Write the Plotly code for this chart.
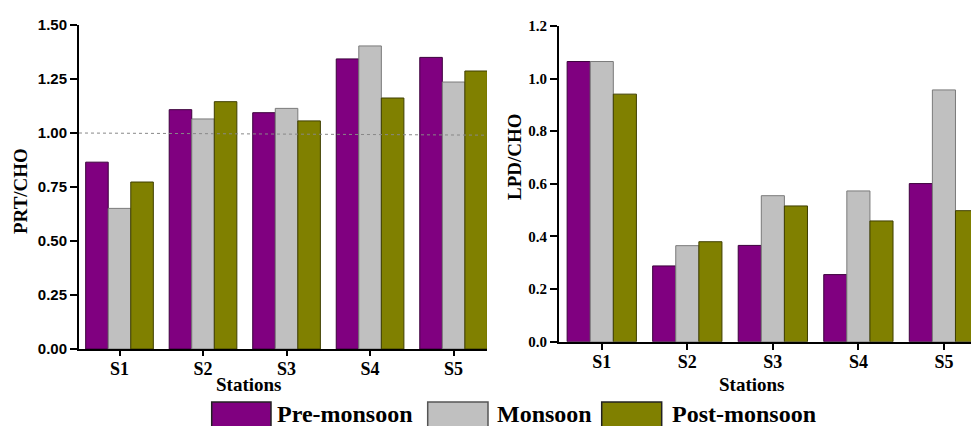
import plotly.graph_objects as go

stations = ["S1", "S2", "S3", "S4", "S5"]
seasons = ["Pre-monsoon", "Monsoon", "Post-monsoon"]

prt_pre = [0.865, 1.108, 1.094, 1.343, 1.350]
prt_mon = [0.651, 1.065, 1.114, 1.403, 1.236]
prt_post = [0.773, 1.145, 1.056, 1.162, 1.287]

lpd_pre = [1.065, 0.288, 0.366, 0.255, 0.601]
lpd_mon = [1.065, 0.365, 0.555, 0.573, 0.957]
lpd_post = [0.941, 0.380, 0.516, 0.459, 0.498]

fills = ["#800080", "#C0C0C0", "#808000"]
edges = ["#3c003c", "#7a7a7a", "#3f3f00"]

# page is 979x426; the html body adds an 8px margin, so the figure is 8px smaller
OFF = 8
W, H = 979 - OFF, 426 - OFF
def px(x):
    return (x - OFF) / W
def py(y):
    return 1 - (y - OFF) / H

fig = go.Figure()
for vals, name, f, e in zip([prt_pre, prt_mon, prt_post], seasons, fills, edges):
    fig.add_trace(go.Bar(x=stations, y=vals, name=name, marker=dict(color=f, line=dict(color=e, width=1)),
                         xaxis="x", yaxis="y", showlegend=False))
for vals, name, f, e in zip([lpd_pre, lpd_mon, lpd_post], seasons, fills, edges):
    fig.add_trace(go.Bar(x=stations, y=vals, name=name, marker=dict(color=f, line=dict(color=e, width=1)),
                         xaxis="x2", yaxis="y2", showlegend=False))

sans_b = dict(family="Liberation Sans, Arial", size=15, color="black", weight="bold")
serif_tick = dict(family="Liberation Serif, Times New Roman", size=15, color="black", weight="bold")
serif_x = dict(family="Liberation Serif, Times New Roman", size=18, color="black", weight="bold")

axis_common = dict(showline=True, linecolor="black", linewidth=2, ticks="outside",
                   tickwidth=2, tickcolor="black", showgrid=False, zeroline=False, automargin=False)

fig.update_layout(
    width=W, height=H, margin=dict(l=0, r=0, t=0, b=0, autoexpand=False),
    plot_bgcolor="white", paper_bgcolor="white",
    barmode="group", bargap=0.19, bargroupgap=0,
    xaxis=dict(domain=[px(79), px(487)], range=[-0.485, 4.4], type="category",
               tickfont=serif_x, anchor="y", ticklen=5, ticklabelstandoff=-3, **axis_common),
    yaxis=dict(domain=[py(349), py(25)], range=[0, 1.5], tickvals=[0, 0.25, 0.5, 0.75, 1.0, 1.25, 1.5],
               tickformat=".2f", tickfont=sans_b, anchor="x", ticklen=7, **axis_common),
    xaxis2=dict(domain=[px(559), 1], range=[-0.5, 4.41], type="category",
                tickfont=serif_x, anchor="y2", ticklen=6, ticklabelstandoff=-3, **axis_common),
    yaxis2=dict(domain=[py(341.7), py(26)], range=[0, 1.2], tickvals=[0, 0.2, 0.4, 0.6, 0.8, 1.0, 1.2],
                tickformat=".1f", tickfont=serif_tick, anchor="x2", ticklen=7, **axis_common),
    showlegend=False,
)

# reference line at 1.0 on the left panel
fig.add_shape(type="line", xref="x", yref="y", x0=-0.485, x1=4.4, y0=1.0, y1=0.99,
              line=dict(color="#888888", width=1, dash="dot"), layer="above")

title_font = dict(family="Liberation Serif, Times New Roman", size=19, color="black", weight="bold")
fig.add_annotation(text="Stations", xref="paper", yref="paper", x=px(248), y=py(384),
                   showarrow=False, font=title_font, xanchor="center", yanchor="middle")
fig.add_annotation(text="Stations", xref="paper", yref="paper", x=px(751), y=py(384),
                   showarrow=False, font=title_font, xanchor="center", yanchor="middle")
fig.add_annotation(text="PRT/CHO", xref="paper", yref="paper", x=px(20), y=py(191), textangle=-90,
                   showarrow=False, font=title_font, xanchor="center", yanchor="middle")
fig.add_annotation(text="LPD/CHO", xref="paper", yref="paper", x=px(514), y=py(156), textangle=-90,
                   showarrow=False, font=title_font, xanchor="center", yanchor="middle")

# custom legend
leg_font = dict(family="Liberation Serif, Times New Roman", size=24, color="black", weight="bold")
boxes = [(211.7, 271), (427.7, 488), (601.7, 661.7)]
text_x = [275, 495, 670]
for name, f, e, (x0, x1), tx in zip(seasons, fills, ["#222222", "#555555", "#222222"], boxes, text_x):
    fig.add_shape(type="rect", xref="paper", yref="paper", x0=px(x0), x1=px(x1), y0=py(428), y1=py(402),
                  fillcolor=f, line=dict(color=e, width=1.5))
    fig.add_annotation(text=name, xref="paper", yref="paper", x=px(tx), y=py(414),
                       showarrow=False, font=leg_font, xanchor="left", yanchor="middle")

fig.write_html("out.html")
